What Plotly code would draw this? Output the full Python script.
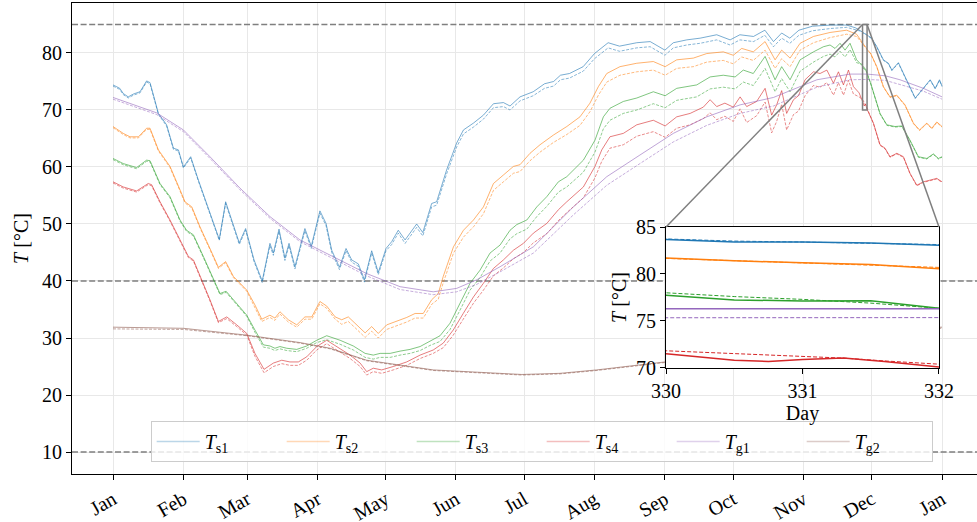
import plotly.graph_objects as go

# ---- month axis ----
month_days = [0, 31, 59, 90, 120, 151, 181, 212, 243, 273, 304, 334, 365]
month_names = ["Jan", "Feb", "Mar", "Apr", "May", "Jun", "Jul", "Aug", "Sep", "Oct", "Nov", "Dec", "Jan"]

# ---- storage temperature, layer 1 ----
days_s1 = [0, 3, 4.5, 6.7, 9, 11.9, 14.8, 16.3, 20, 23.6,
           26.6, 28.8, 31, 34.2, 37.6, 41.2, 43.5, 46.8, 49.6, 55.6,
           58.4, 62.1, 65.7, 69.1, 70.6, 73.1, 75.7, 77.5, 80.1, 84.5,
           87.3, 91.1, 93.8, 96.3, 99.7, 102.6, 105.1, 108, 110.7, 113.9,
           116.8, 120.2, 122.7, 125.6, 128.6, 130.8, 133.7, 136.4, 140.3, 142.5,
           146.9, 151.3, 154.3, 158.7, 163.1, 167.5, 171.9, 174.8, 179.2, 185,
           190, 194, 197, 201, 207, 212, 218, 223, 230.6, 236.5,
           243, 246.7, 252.6, 258.5, 265.8, 271.7, 276, 282, 287, 290.8,
           294.4, 298, 302, 308, 316, 323, 327, 330, 330.5, 331,
           331.5, 332, 334, 336.3, 339.2, 341.4, 342.9, 345.8, 348.7, 353.2,
           356.1, 359.8, 362, 363.9, 365]
ts1 = [74.4, 73.8, 72.9, 72.3, 72.8, 73.2, 75.1, 74.8, 69.4, 67.4,
       63.3, 63.0, 60.0, 61.8, 57.7, 53.6, 51.3, 47.3, 53.9, 46.7,
       49.2, 43.7, 40.0, 46.6, 44.9, 49.1, 44.0, 46.6, 42.5, 49.2,
       46.1, 52.3, 50.1, 45.4, 42.4, 45.7, 43.7, 43.0, 40.2, 45.3,
       41.5, 45.7, 46.9, 48.9, 47.2, 48.4, 50.0, 48.5, 53.6, 53.9,
       59.5, 64.2, 66.5, 67.7, 69.1, 71.1, 71.3, 70.7, 72.3, 73.2,
       74.6, 75.0, 76.1, 76.4, 77.6, 79.9, 81.8, 81.2, 81.8, 82.0,
       80.5, 81.8, 82.3, 82.6, 83.2, 82.3, 83.2, 82.9, 84.0, 82.0,
       83.5, 82.6, 84.0, 84.7, 84.9, 84.9, 84.4, 83.66, 83.4, 83.41,
       83.3, 83.06, 82.6, 81.1, 78.8, 78.2, 77.0, 78.3, 75.8, 72.1,
       73.5, 75.3, 73.8, 75.3, 74.2]
ts1_b = [74.2, 73.6, 72.7, 72.1, 72.6, 73.0, 74.9, 74.6, 69.2, 67.2,
         63.1, 62.8, 59.8, 61.6, 57.5, 53.4, 51.1, 47.1, 53.6, 46.4,
         48.9, 43.4, 39.7, 46.2, 44.5, 48.7, 43.6, 46.2, 42.1, 48.8,
         45.7, 51.9, 49.7, 45.0, 42.0, 45.3, 43.3, 42.6, 39.8, 44.9,
         41.1, 45.3, 46.4, 48.4, 46.6, 47.8, 49.4, 47.9, 53.0, 53.3,
         58.8, 63.5, 65.8, 67.0, 68.4, 70.4, 70.6, 70.0, 71.6, 72.5,
         73.8, 74.2, 75.3, 75.6, 76.8, 79.0, 80.9, 80.3, 80.9, 81.1,
         79.6, 80.9, 81.4, 81.7, 82.3, 81.4, 82.3, 82.0, 83.1, 81.1,
         82.6, 81.7, 83.1, 83.9, 84.3, 84.5, 84.1, 83.73, 83.5, 83.4,
         83.3, 83.13, 82.5, 81.0, 78.7, 78.1, 76.9, 78.2, 75.7, 72.0,
         73.4, 75.2, 73.7, 75.2, 74.1]

# ---- storage temperature, layer 2 ----
days_s2 = [0, 4.5, 7.5, 11.2, 14.8, 16.3, 20, 25.1, 29.5, 31.7,
           34.7, 38.3, 42.7, 46.4, 49.6, 53, 58.9, 62.5, 65.5, 69.1,
           71.3, 73.5, 77.2, 80.9, 84.5, 87.5, 91.1, 94.1, 97.8, 100.7,
           103.6, 106.6, 111, 113.9, 116.8, 120.5, 124.9, 129.3, 133, 136.6,
           140.3, 143.2, 145.4, 149.9, 154.3, 158.7, 163.1, 167.5, 171.9, 176.3,
           179.2, 183.6, 188, 193.9, 199.8, 205.6, 210, 213.7, 217.4, 223.2,
           230.6, 237.9, 243.1, 248.2, 255.5, 261.4, 268.7, 273.1, 276.8, 281.9,
           287.1, 291.5, 294.4, 298.1, 302.5, 308.4, 315.7, 323, 327.4, 330,
           330.5, 331, 331.5, 332, 333.5, 336.3, 339.2, 342.1, 345.1, 348.7,
           352.4, 355.1, 358.3, 360.5, 362.7, 365]
ts2 = [67.1, 65.9, 65.3, 65.3, 66.8, 66.8, 63.0, 60.1, 56.0, 53.9,
       53.0, 49.5, 45.7, 42.4, 43.4, 40.8, 38.4, 35.8, 33.3, 34.0,
       33.5, 34.6, 33.2, 32.3, 33.7, 33.7, 36.4, 35.6, 33.7, 33.2,
       33.7, 32.6, 30.9, 32.0, 30.8, 32.3, 32.9, 33.6, 34.3, 34.3,
       36.7, 37.8, 40.8, 46.0, 48.9, 50.7, 53.0, 57.1, 58.6, 60.1,
       60.4, 62.4, 63.9, 65.6, 67.1, 68.8, 71.2, 74.1, 76.4, 77.6,
       78.2, 78.5, 77.6, 78.8, 79.1, 79.9, 80.2, 79.6, 80.8, 80.2,
       82.0, 78.8, 80.5, 79.1, 81.7, 82.9, 83.6, 84.0, 83.3, 81.65,
       81.4, 81.2, 81.0, 80.55, 80.0, 77.6, 74.1, 72.3, 72.6, 70.9,
       67.7, 66.5, 67.7, 66.8, 67.9, 67.1]
ts2_b = [66.9, 65.7, 65.1, 65.1, 66.6, 66.6, 62.8, 59.9, 55.8, 53.7,
         52.8, 49.3, 45.5, 42.2, 43.2, 40.6, 38.2, 35.4, 32.9, 33.6,
         33.1, 34.2, 32.8, 31.9, 33.3, 33.3, 36.0, 35.2, 33.3, 32.4,
         32.9, 31.8, 30.1, 31.2, 30.0, 31.5, 32.1, 32.8, 33.5, 33.5,
         35.9, 36.8, 39.7, 44.9, 47.7, 49.5, 51.8, 55.9, 57.4, 58.9,
         59.2, 61.1, 62.6, 64.3, 65.7, 67.3, 69.7, 72.6, 74.9, 76.1,
         76.7, 77.0, 76.1, 77.3, 77.6, 78.4, 78.7, 78.1, 79.3, 78.7,
         80.5, 77.3, 79.0, 77.6, 80.5, 81.8, 82.7, 83.3, 82.9, 81.7,
         81.45, 81.2, 80.95, 80.7, 79.9, 77.5, 74.0, 72.2, 72.5, 70.8,
         67.6, 66.4, 67.6, 66.7, 67.8, 67.0]

# ---- storage temperature, layer 3 ----
days_s3 = [0, 4.5, 10.4, 14.8, 16.3, 20.7, 25.1, 29.5, 32.4, 35.4,
           39.8, 44.2, 47.1, 49.8, 54.5, 58.9, 62.5, 66.2, 69.1, 71.3,
           73.5, 76.5, 80.9, 85.3, 89.7, 94.1, 100, 105.8, 111, 114.6,
           117.6, 122, 126.4, 130.8, 135.2, 139.6, 144, 148.4, 152.8, 157.2,
           161.6, 166, 170.4, 174.8, 177.8, 182.2, 186.6, 191, 196.1, 199.8,
           207.1, 212.2, 215.9, 218.8, 224.7, 230.6, 237.9, 243.1, 248.2, 257,
           262.9, 268.7, 273.9, 277.5, 281.9, 287.1, 291.5, 294.4, 298.1, 302.5,
           308.4, 312.8, 315.7, 317.9, 320.1, 322.3, 324.5, 327.4, 330, 330.5,
           331, 331.5, 332, 333.5, 337.7, 340.7, 344.3, 347.3, 350.9, 354.6,
           358.3, 361.2, 363.4, 365]
ts3 = [61.5, 60.6, 59.9, 61.2, 61.1, 57.1, 54.8, 50.7, 48.9, 48.1,
       44.3, 40.2, 37.8, 38.2, 36.1, 34.0, 31.4, 28.8, 28.6, 28.2,
       28.5, 28.2, 28.0, 28.6, 29.6, 30.4, 29.6, 28.6, 27.3, 27.0,
       27.3, 27.3, 27.7, 28.0, 28.5, 29.4, 30.4, 32.6, 36.1, 39.6,
       41.9, 44.9, 46.3, 48.9, 49.9, 50.7, 53.0, 54.8, 57.4, 58.3,
       61.2, 64.7, 68.8, 70.3, 71.5, 72.1, 73.2, 72.5, 73.8, 74.4,
       75.8, 76.1, 75.8, 77.0, 76.4, 79.4, 75.3, 77.6, 75.3, 78.8,
       80.2, 81.1, 81.4, 80.8, 81.7, 80.5, 81.7, 78.8, 77.73, 77.24,
       77.13, 77.16, 76.35, 74.8, 69.4, 67.4, 67.1, 67.2, 64.7, 61.8,
       61.5, 62.3, 61.5, 61.8]
ts3_b = [61.3, 60.4, 59.7, 61.0, 60.9, 56.9, 54.6, 50.5, 48.7, 47.9,
         44.1, 40.0, 37.6, 38.0, 35.9, 33.8, 31.0, 28.4, 28.2, 27.8,
         28.1, 27.8, 27.6, 28.2, 29.2, 29.7, 28.9, 27.9, 26.6, 26.3,
         26.6, 26.6, 27.0, 27.3, 27.8, 28.7, 29.4, 31.5, 34.9, 38.4,
         40.6, 43.5, 44.9, 47.4, 48.3, 49.1, 51.3, 53.1, 55.6, 56.5,
         59.1, 62.6, 66.7, 68.2, 69.4, 70.0, 71.1, 70.4, 71.7, 72.3,
         73.7, 74.0, 73.7, 74.9, 74.3, 77.3, 73.2, 75.5, 73.2, 76.8,
         78.4, 79.4, 79.8, 79.3, 80.3, 79.3, 80.6, 78.3, 78.0, 77.6,
         77.3, 76.9, 76.5, 74.7, 69.3, 67.3, 67.0, 67.1, 64.6, 61.7,
         61.4, 62.2, 61.4, 61.7]

# ---- storage temperature, layer 4 ----
days_s4 = [0, 4.5, 10.4, 15.5, 17, 20.7, 25.1, 29.5, 33.2, 35.4,
           39.8, 42.7, 46.4, 50.1, 54.5, 58.9, 62.5, 66.5, 70.6, 74.3,
           77.9, 81.6, 85.3, 89.7, 94.1, 98.5, 104.4, 108.8, 111.7, 114.6,
           118.3, 123.4, 129.3, 135.2, 141, 145.4, 149.8, 154.2, 158.7, 163.1,
           167.5, 171.9, 176.3, 180.7, 185.1, 191, 196.1, 199.8, 207.1, 212.2,
           215.2, 218.8, 224.7, 230.6, 237.9, 243.1, 248.2, 254.1, 259.9, 262.9,
           265.8, 269.4, 273.1, 276.1, 279, 283.4, 287.1, 290, 292.2, 294.4,
           296.6, 299.6, 301.8, 304.7, 308.4, 311.3, 314.3, 317.2, 319.4, 321.6,
           323.8, 326, 328.5, 330, 330.5, 330.75, 331, 331.3, 331.6, 332,
           334.8, 337.7, 339.9, 342.1, 345.1, 348, 350.9, 353.9, 356.8, 359.8,
           362.7, 365]
ts4 = [57.4, 56.5, 55.8, 57.1, 56.9, 53.9, 50.7, 47.2, 44.3, 43.7,
       39.6, 36.7, 32.9, 33.7, 32.3, 30.8, 27.3, 24.5, 25.6, 26.1,
       25.8, 25.8, 26.7, 28.5, 29.6, 28.5, 27.0, 25.6, 24.1, 24.7,
       24.4, 25.0, 25.8, 27.0, 27.9, 29.1, 31.4, 34.3, 37.2, 39.6,
       42.2, 43.7, 45.4, 46.6, 48.4, 50.1, 52.5, 53.9, 56.5, 60.1,
       63.0, 65.3, 65.9, 67.4, 68.2, 67.2, 68.8, 69.4, 70.5, 71.8,
       70.6, 71.2, 70.5, 72.3, 70.6, 71.5, 73.8, 69.1, 70.9, 73.4,
       69.4, 71.8, 72.5, 75.3, 76.7, 76.4, 77.0, 74.7, 76.7, 74.4,
       77.0, 74.1, 73.0, 71.52, 70.81, 70.7, 70.9, 71.06, 70.7, 70.1,
       67.7, 63.9, 63.3, 61.8, 62.4, 61.8, 58.9, 56.8, 57.4, 57.7,
       58.0, 57.4]
ts4_b = [57.2, 56.3, 55.6, 56.9, 56.7, 53.7, 50.5, 47.0, 44.1, 43.5,
         39.4, 36.5, 32.7, 33.4, 32.0, 30.5, 26.8, 23.9, 25.0, 25.5,
         25.2, 25.2, 26.1, 27.9, 29.0, 27.9, 26.4, 25.0, 23.5, 24.1,
         23.8, 24.4, 25.2, 26.4, 27.3, 28.3, 30.5, 33.3, 36.1, 38.4,
         40.9, 42.3, 43.9, 45.0, 46.7, 48.3, 50.6, 52.0, 54.6, 58.1,
         61.0, 63.3, 63.9, 65.4, 66.2, 65.2, 66.8, 67.4, 68.5, 69.5,
         68.3, 68.9, 68.0, 70.2, 67.8, 69.0, 71.4, 66.0, 68.0, 71.0,
         66.5, 69.2, 69.8, 72.5, 74.3, 74.0, 74.8, 72.6, 74.8, 72.6,
         75.2, 72.8, 72.3, 71.83, 71.53, 71.4, 71.23, 71.05, 70.75, 70.35,
         67.6, 63.8, 63.2, 61.7, 62.3, 61.7, 58.8, 56.7, 57.3, 57.6,
         57.9, 57.3]

# ---- ground temperatures ----
days_g1 = [0, 8.9, 19.2, 31, 42.7, 55.9, 69.1, 82.3, 97, 111.7,
           126.4, 141, 151.3, 160.1, 170.4, 185.1, 202.7, 217.4, 232, 246.7,
           261.4, 276.1, 290.8, 309.9, 324.5, 330, 332, 340, 346.5, 356.8, 365]
tg1 = [72.2, 70.9, 69.5, 66.5, 61.8, 56.3, 51.3, 47.2, 44.3, 41.3,
       39.0, 38.1, 38.7, 40.2, 42.5, 46.0, 53.0, 58.3, 62.1, 65.9,
       68.8, 70.9, 72.2, 75.3, 76.3, 76.3, 76.3, 76.0, 75.3, 73.8, 72.3]
tg1_b = [71.9, 70.6, 69.2, 66.2, 61.5, 56.0, 51.0, 46.9, 43.9, 40.9,
         38.5, 37.6, 38.1, 39.4, 41.6, 44.9, 51.6, 56.8, 60.6, 64.4,
         67.3, 69.4, 70.7, 74.0, 75.3, 75.36, 75.36, 75.2, 74.5, 73.3, 71.9]

days_g2 = [0, 31, 58.9, 82.3, 95.6, 111.7, 141, 170.4, 180, 196.8,
           213, 243, 270, 300, 330, 365]
tg2 = [31.9, 31.7, 30.5, 29.2, 28.2, 26.1, 24.4, 23.7, 23.6, 23.8,
       24.4, 25.8, 27.7, 29.7, 31.3, 31.9]
tg2_b = [31.6, 31.5, 30.4, 29.1, 28.1, 26.0, 24.3, 23.6, 23.5, 23.7,
         24.3, 25.7, 27.6, 29.6, 31.1, 31.7]

# temperature limits marked across the plot
limit_temps = [85, 40, 10]

# zoom window shown in the inset
zoom_days = [330, 332]
zoom_temps = [70, 85]

labels = ["<i>T</i><sub>s1</sub>", "<i>T</i><sub>s2</sub>", "<i>T</i><sub>s3</sub>",
          "<i>T</i><sub>s4</sub>", "<i>T</i><sub>g1</sub>", "<i>T</i><sub>g2</sub>"]
colors = ["#1f77b4", "#ff7f0e", "#2ca02c", "#d62728", "#9467bd", "#8c564b"]

series = [
    (days_s1, ts1, ts1_b),
    (days_s2, ts2, ts2_b),
    (days_s3, ts3, ts3_b),
    (days_s4, ts4, ts4_b),
    (days_g1, tg1, tg1_b),
    (days_g2, tg2, tg2_b),
]


def rgba(hex_color, a):
    h = hex_color.lstrip("#")
    r, g, b = int(h[0:2], 16), int(h[2:4], 16), int(h[4:6], 16)
    return f"rgba({r},{g},{b},{a})"


FONT = "Liberation Serif"
X_RANGE = [-18.05, 380.4]
Y_RANGE = [6.14, 88.77]
INSET_X = [0.6564, 0.958]
INSET_Y = [0.2251, 0.5244]

fig = go.Figure()

# limit lines, kept underneath the temperature curves
for t in limit_temps:
    fig.add_trace(go.Scatter(x=X_RANGE, y=[t, t], mode="lines", showlegend=False, hoverinfo="skip",
                             line=dict(color="#7f7f7f", width=1.5, dash="6px,2.6px")))

# main panel
for (d, solid, dashed), col in zip(series, colors):
    fig.add_trace(go.Scatter(x=d, y=solid, mode="lines", showlegend=False, hoverinfo="skip",
                             line=dict(color=rgba(col, 0.6), width=1)))
    fig.add_trace(go.Scatter(x=d, y=dashed, mode="lines", showlegend=False, hoverinfo="skip",
                             line=dict(color=rgba(col, 0.6), width=0.9, dash="3px,1.5px")))

# inset panel
for (d, solid, dashed), col in zip(series, colors):
    fig.add_trace(go.Scatter(x=d, y=solid, mode="lines", showlegend=False, hoverinfo="skip",
                             xaxis="x2", yaxis="y2", line=dict(color=col, width=1.5)))
    fig.add_trace(go.Scatter(x=d, y=dashed, mode="lines", showlegend=False, hoverinfo="skip",
                             xaxis="x2", yaxis="y2", line=dict(color=col, width=1, dash="4px,2px")))

# legend handles
for lab, col in zip(labels, colors):
    fig.add_trace(go.Scatter(x=[None], y=[None], mode="lines", name=lab,
                             line=dict(color=rgba(col, 0.3), width=1.5)))

shapes = [dict(type="rect", xref="x", yref="y", x0=zoom_days[0], x1=zoom_days[1],
               y0=zoom_temps[0], y1=zoom_temps[1], layer="above",
               line=dict(color="#7f7f7f", width=1.5))]


def paper_to_x(p):
    return X_RANGE[0] + p * (X_RANGE[1] - X_RANGE[0])


def paper_to_y(p):
    return Y_RANGE[0] + p * (Y_RANGE[1] - Y_RANGE[0])


for zx, ix in ((zoom_days[0], INSET_X[0]), (zoom_days[1], INSET_X[1])):
    shapes.append(dict(type="line", xref="x", yref="y", x0=zx, y0=zoom_temps[1],
                       x1=paper_to_x(ix), y1=paper_to_y(INSET_Y[1]), layer="above",
                       line=dict(color="#7f7f7f", width=1.5)))

tick_font = dict(family=FONT, size=20, color="black")

fig.update_layout(
    width=977, height=522,
    margin=dict(l=72, r=0, t=3, b=48, autoexpand=False),
    paper_bgcolor="white", plot_bgcolor="white",
    font=dict(family=FONT, size=20, color="black"),
    shapes=shapes,
    xaxis=dict(range=X_RANGE, domain=[0, 1], tickmode="array", tickvals=month_days,
               ticktext=month_names, tickangle=-30, tickfont=tick_font, automargin=False,
               showgrid=True, gridcolor="#e8e8e8", gridwidth=1, zeroline=False,
               showline=True, linecolor="black", linewidth=1, mirror=True,
               ticks="outside", ticklen=5, tickcolor="black"),
    yaxis=dict(range=Y_RANGE, domain=[0, 1], tickmode="array",
               tickvals=[10, 20, 30, 40, 50, 60, 70, 80], tickfont=tick_font, automargin=False,
               showgrid=True, gridcolor="#e8e8e8", gridwidth=1, zeroline=False,
               showline=True, linecolor="black", linewidth=1,
               ticks="outside", ticklen=5, tickcolor="black",
               title=dict(text="<i>T</i> [°C]", font=dict(family=FONT, size=20), standoff=8)),
    xaxis2=dict(anchor="y2", domain=INSET_X, range=zoom_days, tickmode="array",
                tickvals=[330, 331, 332], tickfont=tick_font, showgrid=False, zeroline=False,
                showline=True, linecolor="black", linewidth=1, mirror=True, automargin=False,
                ticks="outside", ticklen=5, tickcolor="black",
                title=dict(text="Day", font=dict(family=FONT, size=20), standoff=4)),
    yaxis2=dict(anchor="x2", domain=INSET_Y, range=zoom_temps, tickmode="array",
                tickvals=[70, 75, 80, 85], tickfont=tick_font, showgrid=False, zeroline=False,
                showline=True, linecolor="black", linewidth=1, mirror=True, automargin=False,
                ticks="outside", ticklen=5, tickcolor="black",
                title=dict(text="<i>T</i> [°C]", font=dict(family=FONT, size=20), standoff=4)),
    legend=dict(orientation="h", x=0.519, xanchor="center", y=0.0255, yanchor="bottom",
                bgcolor="rgba(255,255,255,0.8)", bordercolor="#cccccc", borderwidth=1,
                font=dict(family=FONT, size=20), itemwidth=43,
                entrywidth=72, entrywidthmode="pixels"),
)

fig.write_html("out.html")
